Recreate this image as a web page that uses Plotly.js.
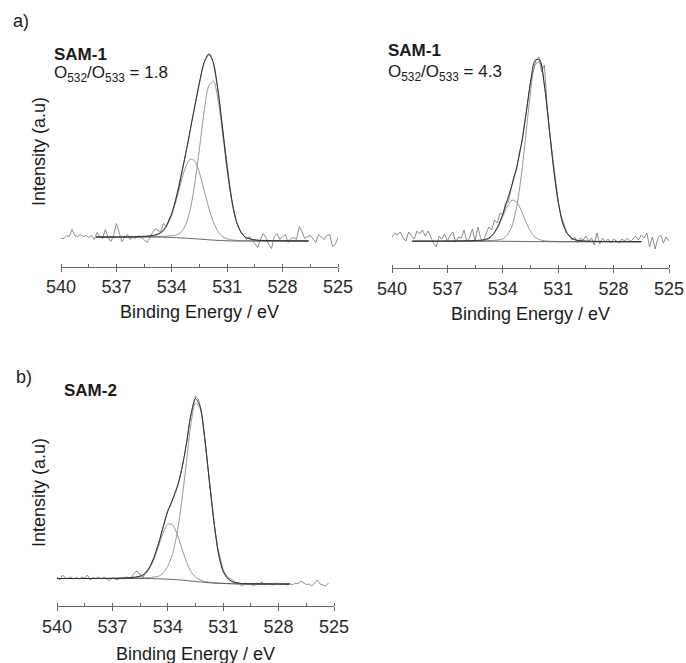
<!DOCTYPE html>
<html>
<head>
<meta charset="utf-8">
<script src="https://cdn.plot.ly/plotly-3.0.1.min.js"></script>
<style>html,body{margin:0;padding:0;background:#fff;}#chart{width:686px;height:663px;}</style>
</head>
<body>
<div id="chart"></div>
<script>
// ---------- data (binding energy in eV, intensity in a.u.) ----------
var rawE = [540.00,539.85,539.70,539.55,539.40,539.25,539.10,538.95,538.80,538.65,538.50,538.35,538.20,538.05,537.90,537.75,537.60,537.45,537.30,537.15,537.00,536.85,536.70,536.55,536.40,536.25,536.10,535.95,535.80,535.65,535.50,535.35,535.20,535.05,534.90,534.75,534.60,534.45,534.30,534.15,534.00,533.85,533.70,533.55,533.40,533.25,533.10,532.95,532.80,532.65,532.50,532.35,532.20,532.05,531.90,531.75,531.60,531.45,531.30,531.15,531.00,530.85,530.70,530.55,530.40,530.25,530.10,529.95,529.80,529.65,529.50,529.35,529.20,529.05,528.90,528.75,528.60,528.45,528.30,528.15,528.00,527.85,527.70,527.55,527.40,527.25,527.10,526.95,526.80,526.65,526.50,526.35,526.20,526.05,525.90,525.75,525.60,525.45,525.30,525.15,525.00];

// SAM-1 (left), O532/O533 = 1.8
var rawA = [28,28,31,30,37,31,30,32,30,31,29,31,27,34,30,28,37,29,25,31,43,33,25,29,32,27,30,28,31,29,27,24,28,34,38,36,35,43,40,47,52,62,73,87,100,112,126,142,156,170,184,197,206,211,212,204,188,170,146,122,99,79,61,48,40,34,31,27,30,26,22,19,27,33,29,22,18,30,33,27,30,32,24,28,29,27,40,35,28,30,31,27,24,32,29,27,31,32,20,22,29];
var fitEA = [538.1,537,536,535.5,535.25,535,534.75,534.5,534.25,534,533.75,533.5,533.25,533,532.75,532.5,532.25,532,531.75,531.5,531.25,531,530.75,530.5,530.25,530,529.5,529,528,526.6];
var baseA = [29.5,29.5,29.5,29.5,29.5,29.5,29.4,29.3,29.2,29.0,28.8,28.6,28.3,28.0,27.7,27.4,27.1,26.7,26.4,26.1,25.9,25.7,25.6,25.5,25.5,25.5,25.5,25.5,25.5,25.5];
var o533A = [0,0,0.1,0.5,0.8,1.3,2.6,5.4,11.8,22.7,38.0,55.6,71.1,79.4,77.5,66.1,49.2,32.0,18.2,9.0,3.9,2.0,1.0,0.6,0.3,0.2,0.1,0,0,0];
var o532A = [0,0,0.1,0.2,0.25,0.3,0.5,0.8,1.2,1.8,2.6,5.6,13.2,29.2,55.7,91.0,127.7,153.8,159.0,141.2,107.6,70.4,39.6,19.1,8.5,3.5,1.0,0.5,0.2,0];

// SAM-1 (right), O532/O533 = 4.3
var rawB = [31,35,33,36,30,27,36,33,29,37,34,38,32,37,31,25,21,32,29,34,27,33,36,26,31,30,38,27,30,39,27,41,30,27,35,41,38,48,45,55,53,65,66,80,92,99,116,127,149,166,186,196,208,211,196,203,162,133,110,85,67,52,45,35,33,28,31,25,30,28,32,27,30,23,35,24,30,26,29,25,29,27,25,29,27,30,26,29,32,28,33,30,35,21,31,19,30,33,25,31,27];
var fitEB = [538.9,537.5,536.5,536,535.5,535.25,535,534.75,534.5,534.25,534,533.75,533.5,533.25,533,532.75,532.5,532.25,532,531.75,531.5,531.25,531,530.75,530.5,530.25,530,529.5,529,528,526.5];
var baseB = [26.8,26.8,26.8,26.8,26.8,26.8,26.8,26.8,26.8,26.8,26.7,26.7,26.6,26.6,26.5,26.5,26.4,26.4,26.4,26.4,26.3,26.3,26.3,26.3,26.3,26.3,26.3,26.3,26.3,26.3,26.3];
var o533B = [0,0,0.1,0.2,0.4,0.6,1.1,2.6,6.7,14.2,24.7,35.2,41.2,39.4,30.9,19.8,10.4,4.5,1.9,0.9,0.5,0.3,0.1,0,0,0,0,0,0,0,0];
var o532B = [0,0,0.1,0.2,0.3,0.35,0.4,0.6,0.9,1.3,2.5,6.4,15.4,34.4,65.6,106.9,148.8,176.9,179.7,156.0,115.7,73.3,39.7,18.3,8.0,3.2,1.5,0.6,0.3,0.1,0];

// SAM-2
var rawC = [29,26,31,28,27.5,29,27,28.5,27,29,28,31,26,28.5,27.5,29,27,29,27,25.5,28,27,26,28,27,29,28,29,33.5,35,31,28,34,37,42,48,57,65,76,87,96,100,109,117,125,137,150,167,186,199,210,207,196,175,150,126,102,77,58,46,36,31,28,27,24,23.5,22,20,23,21.5,22,20,23,22,24,21,22.5,22,21,23,22,21.5,22,21,22.5,21,23,22,25,23,21.5,22,20,23,26,22,21,20,23,null,null];
var fitEC = [540,539,538,537,536.5,536,535.5,535.25,535,534.75,534.5,534.25,534,533.75,533.5,533.25,533,532.75,532.5,532.25,532,531.75,531.5,531.25,531,530.75,530.5,530.25,530,529.5,529,528,527.4];
var baseC = [27.5,27.5,27.5,27.5,27.5,27.5,27.5,27.45,27.4,27.3,27.2,27.0,26.8,26.55,26.3,25.9,25.5,25.0,24.5,24.05,23.6,23.25,22.9,22.7,22.5,22.35,22.2,22.1,22.0,22,22,22,22];
var o532C = [0,0,0,0.1,0.2,0.3,0.5,0.7,1.0,1.6,2.6,6,13,25,46,78,117,156.6,178.5,173.4,143.6,101.2,60.8,29,12,5,2,1,0.5,0.2,0.1,0,0];
var o533C = [0,0,0,0.1,0.3,0.6,1.9,4.1,9.8,19.6,32.8,46.3,54.9,54.7,45.8,32.3,19.1,9.5,4.4,2.0,1.0,0.6,0.4,0.3,0.2,0.1,0.1,0,0,0,0,0,0];

var tickVals = [540,537,534,531,528,525];
var tickText = ['540','537','534','531','528','525'];

// ---------- build ----------
var W = 686, H = 663;
function px(x){return x/W;}
function py(y){return 1 - y/H;}
function add(a,b){return a.map(function(v,i){return v + b[i];});}

var panels = [
  {raw: rawA, fe: fitEA, base: baseA, c1: o532A, c2: o533A, xd:[61,338], axisY:266.5, xa:'x', ya:'y'},
  {raw: rawB, fe: fitEB, base: baseB, c1: o532B, c2: o533B, xd:[392,669], axisY:268, xa:'x2', ya:'y2'},
  {raw: rawC, fe: fitEC, base: baseC, c1: o532C, c2: o533C, xd:[57,334], axisY:606, xa:'x3', ya:'y3'}
];
var YMAX = 230;
var traces = [];
var layout = {
  width: W, height: H, margin:{l:0,r:0,t:0,b:0,pad:0},
  paper_bgcolor:'#fff', plot_bgcolor:'rgba(0,0,0,0)', showlegend:false,
  font:{family:'Liberation Sans, Arial, sans-serif', color:'#1a1a1a'},
  annotations:[]
};
panels.forEach(function(p, k){
  var common = {xaxis:p.xa, yaxis:p.ya, mode:'lines', hoverinfo:'skip'};
  traces.push(Object.assign({x: rawE, y: p.raw, line:{color:'#808080', width:0.9}}, common));
  traces.push(Object.assign({x: p.fe, y: add(p.base, p.c2), line:{color:'#8a8a8a', width:0.9, shape:'spline', smoothing:0.8}}, common));
  traces.push(Object.assign({x: p.fe, y: add(p.base, p.c1), line:{color:'#8a8a8a', width:0.9, shape:'spline', smoothing:0.8}}, common));
  traces.push(Object.assign({x: p.fe, y: p.base, line:{color:'#505050', width:0.9, shape:'spline', smoothing:0.8}}, common));
  traces.push(Object.assign({x: p.fe, y: add(add(p.base, p.c1), p.c2), line:{color:'#2e2e2e', width:1, shape:'spline', smoothing:0.8}}, common));
  var xk = 'xaxis' + (k ? (k+1) : ''), yk = 'yaxis' + (k ? (k+1) : '');
  layout[xk] = {
    domain:[px(p.xd[0]), px(p.xd[1])], range:[540,525], anchor: p.ya,
    tickmode:'array', tickvals: tickVals, ticktext: tickText,
    showline:true, linecolor:'#666', linewidth:1, ticks:'outside', ticklen:4, tickcolor:'#666', tickwidth:1,
    minor:{tickmode:'linear', tick0:540, dtick:1.5, ticks:'inside', ticklen:3, tickcolor:'#666', showgrid:false},
    showgrid:false, zeroline:false, fixedrange:true,
    tickfont:{size:18, color:'#2a2a2a', family:'Liberation Sans, Arial, sans-serif'}
  };
  layout[yk] = {
    domain:[py(p.axisY), py(p.axisY - YMAX)], range:[0, YMAX], anchor: p.xa,
    visible:false, fixedrange:true
  };
});

function ann(text, x, y, opts){
  var a = {text:text, x:px(x), y:py(y), xref:'paper', yref:'paper', showarrow:false,
           xanchor:'left', yanchor:'middle', font:{size:17, color:'#1a1a1a', family:'Liberation Sans, Arial, sans-serif'}};
  return Object.assign(a, opts || {});
}
layout.annotations = [
  ann('a)', 11, 21, {font:{size:18, color:'#1a1a1a'}}),
  ann('b)', 14, 377, {font:{size:18, color:'#1a1a1a'}}),
  ann('<b>SAM-1</b>', 52, 54),
  ann('O<sub>532</sub>/O<sub>533</sub> = 1.8', 52, 74),
  ann('<b>SAM-1</b>', 386, 51),
  ann('O<sub>532</sub>/O<sub>533</sub> = 4.3', 386, 73),
  ann('<b>SAM-2</b>', 62, 390),
  ann('Intensity (a.u)', 39, 152, {xanchor:'center', textangle:-90, font:{size:18, color:'#1a1a1a'}}),
  ann('Intensity (a.u)', 39, 493, {xanchor:'center', textangle:-90, font:{size:18, color:'#1a1a1a'}}),
  ann('Binding Energy / eV', 199.5, 312, {xanchor:'center', font:{size:18, color:'#1a1a1a'}}),
  ann('Binding Energy / eV', 530.5, 313.5, {xanchor:'center', font:{size:18, color:'#1a1a1a'}}),
  ann('Binding Energy / eV', 195.5, 654, {xanchor:'center', font:{size:18, color:'#1a1a1a'}})
];

Plotly.newPlot('chart', traces, layout, {staticPlot:true, displayModeBar:false});
</script>
</body>
</html>
